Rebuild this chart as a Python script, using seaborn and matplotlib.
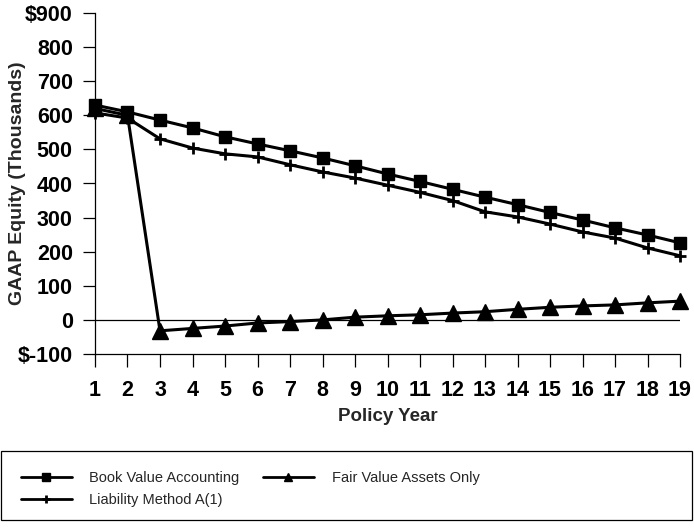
import numpy as np
import pandas as pd
import matplotlib
matplotlib.use('Agg')
import matplotlib.pyplot as plt
from matplotlib.patches import Rectangle
import seaborn as sns

# Werte
years = list(range(1, 20))
book_value = [630, 610, 586, 563, 537, 516, 496, 475, 452, 428, 406, 383, 360, 338, 315, 293, 270, 249, 226]
liability_a1 = [607, 592, 531, 504, 487, 478, 455, 434, 416, 395, 374, 350, 317, 302, 281, 258, 240, 211, 188]
fair_value = [620, 600, -32, -25, -18, -9, -5, 0, 8, 12, 15, 20, 24, 31, 37, 41, 44, 50, 55]

y_ticks = list(range(-100, 1000, 100))
y_labels = ['$-100'] + [str(v) for v in range(0, 900, 100)] + ['$900']

series_names = ['Book Value Accounting', 'Liability Method A(1)', 'Fair Value Assets Only']

df = pd.DataFrame({
    'Policy Year': years * 3,
    'Equity': book_value + liability_a1 + fair_value,
    'Serie': [series_names[0]] * 19 + [series_names[1]] * 19 + [series_names[2]] * 19,
})

sns.set_style('ticks')
plt.rcParams['font.family'] = ['Liberation Sans', 'DejaVu Sans']

fig = plt.figure(figsize=(6.94, 5.28), dpi=100)
ax = fig.add_axes([95 / 694, 1 - 354 / 528, 585 / 694, 341 / 528])

markers = {series_names[0]: 's', series_names[1]: '+', series_names[2]: '^'}
sizes = {series_names[0]: 9, series_names[1]: 9, series_names[2]: 12}
for name in series_names:
    sub = df[df['Serie'] == name]
    sns.lineplot(data=sub, x='Policy Year', y='Equity', ax=ax, color='black', lw=2.2,
                 marker=markers[name], markersize=sizes[name],
                 markeredgewidth=2 if name == series_names[1] else 1,
                 markeredgecolor='black', label=name, legend=False, clip_on=False)

ax.axhline(0, color='black', lw=0.9, zorder=0)

ax.set_xlim(1, 19)
ax.set_ylim(-100, 900)
ax.set_xticks(years)
ax.set_yticks(y_ticks)
ax.set_yticklabels(y_labels)
ax.tick_params(axis='both', labelsize=15.5, colors='black', direction='out', width=0.9)
ax.tick_params(axis='y', length=9, pad=7)
ax.tick_params(axis='x', length=9, pad=10)
for t in ax.get_xticklabels() + ax.get_yticklabels():
    t.set_fontweight('bold')

for s in ['top', 'right']:
    ax.spines[s].set_visible(False)
for s in ['left', 'bottom']:
    ax.spines[s].set_color('black')
    ax.spines[s].set_linewidth(0.9)

ax.set_xlabel('Policy Year', fontsize=13.5, fontweight='bold')
ax.set_ylabel('GAAP Equity (Thousands)', fontsize=14, fontweight='bold')
ax.xaxis.set_label_coords(0.5, -0.158)
ax.yaxis.set_label_coords(-0.118, 0.5)

# Legende unten mit Rahmen über die ganze Breite
handles, labels = ax.get_legend_handles_labels()
leg = fig.legend(handles, labels, ncol=2, loc='center left',
                 bbox_to_anchor=(15 / 694, 1 - 489 / 528),
                 prop={'size': 10.5}, frameon=False,
                 handlelength=3.5, handletextpad=1.2, columnspacing=1.6,
                 labelspacing=0.55, borderaxespad=0)
for h in leg.legend_handles:
    h.set_markersize(6)
    h.set_linewidth(2)

fig.add_artist(Rectangle((1 / 694, 8 / 528), 691 / 694, 69 / 528, transform=fig.transFigure,
                         fill=False, edgecolor='black', lw=0.9))

fig.savefig('out.png', dpi=100)
